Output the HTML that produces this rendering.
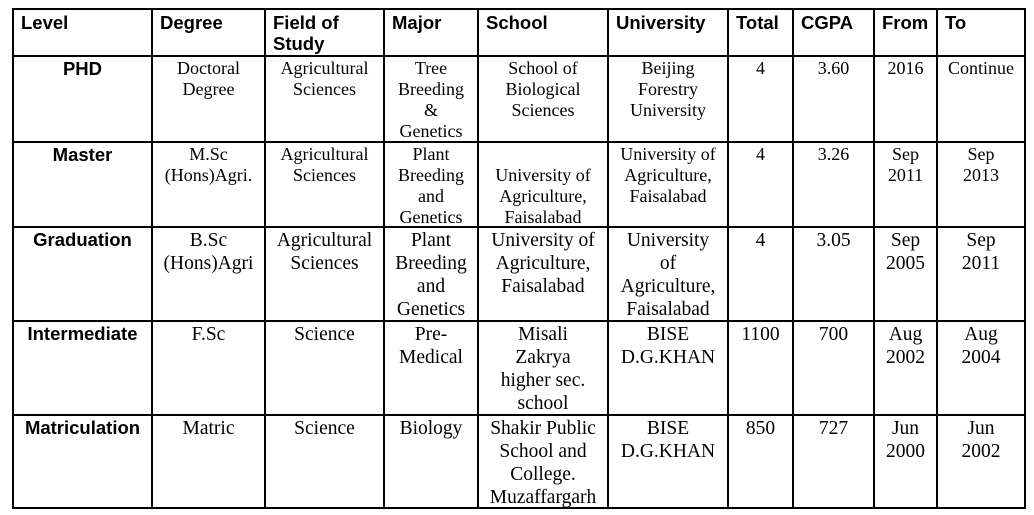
<!DOCTYPE html>
<html><head><meta charset="utf-8"><style>
body{margin:0;background:#fff;width:1034px;height:515px;position:relative;overflow:hidden}
.c{position:absolute;box-sizing:border-box;color:#000}
.h{font-family:"Liberation Sans",sans-serif;font-weight:bold;font-size:18.5px;line-height:21px;padding:3px 0 0 8px;text-align:left}
.lv{font-family:"Liberation Sans",sans-serif;font-weight:bold;font-size:18.5px;text-align:center;line-height:21px;padding-top:2px}
.b{font-family:"Liberation Serif",serif;font-size:18px;line-height:21px;text-align:center;padding-top:2px}
.g{font-size:19.5px;line-height:23px}
.ln{position:absolute;background:#000}
</style></head><body>
<div id="t"></div>
<script>
const cols=[13,152,265,384,478,608,728,793,874,937,1025];
const rows=[9,56,142,227,321,415,508];
const headers=["Level","Degree","Field of Study","Major","School","University","Total","CGPA","From","To"];
const data=[
["PHD","Doctoral<br>Degree","Agricultural<br>Sciences","Tree<br>Breeding<br>&amp;<br>Genetics","School of<br>Biological<br>Sciences","Beijing<br>Forestry<br>University","4","3.60","2016","Continue"],
["Master","M.Sc<br>(Hons)Agri.","Agricultural<br>Sciences","Plant<br>Breeding<br>and<br>Genetics","<br>University of<br>Agriculture,<br>Faisalabad","University of<br>Agriculture,<br>Faisalabad","4","3.26","Sep<br>2011","Sep<br>2013"],
["Graduation","B.Sc<br>(Hons)Agri","Agricultural<br>Sciences","Plant<br>Breeding<br>and<br>Genetics","University of<br>Agriculture,<br>Faisalabad","University<br>of<br>Agriculture,<br>Faisalabad","4","3.05","Sep<br>2005","Sep<br>2011"],
["Intermediate","F.Sc","Science","Pre-<br>Medical","Misali<br>Zakrya<br>higher sec.<br>school","BISE<br>D.G.KHAN","1100","700","Aug<br>2002","Aug<br>2004"],
["Matriculation","Matric","Science","Biology","Shakir Public<br>School and<br>College.<br>Muzaffargarh","BISE<br>D.G.KHAN","850","727","Jun<br>2000","Jun<br>2002"]];
const t=document.getElementById('t');
function cell(cls,x0,x1,y0,y1,html,name){
 const d=document.createElement('div');d.className='c '+cls;
 d.style.left=x0+'px';d.style.width=(x1-x0)+'px';d.style.top=y0+'px';d.style.height=(y1-y0)+'px';
 d.innerHTML=html;
 
 
 t.appendChild(d);}
headers.forEach((h,i)=>cell('h',cols[i],cols[i+1],rows[0],rows[1],h.replace('of Study','of<br>Study'),'header-'+h.toLowerCase().replace(/ /g,'-')));
data.forEach((r,ri)=>r.forEach((v,ci)=>{
 const big=ri>=2?' g':'';
 cell(ci==0?'lv':'b'+big,cols[ci],cols[ci+1],rows[ri+1],rows[ri+2],v,'cell-'+r[0].toLowerCase()+'-'+headers[ci].toLowerCase().replace(/ /g,'-'));
}));
cols.forEach(x=>{const l=document.createElement('div');l.className='ln';l.style.left=(x-1)+'px';l.style.top=(rows[0]-1)+'px';l.style.width='2px';l.style.height=(rows[rows.length-1]-rows[0]+2)+'px';


t.appendChild(l);});
rows.forEach(y=>{const l=document.createElement('div');l.className='ln';l.style.top=(y-1)+'px';l.style.left=(cols[0]-1)+'px';l.style.height='2px';l.style.width=(cols[cols.length-1]-cols[0]+2)+'px';


t.appendChild(l);});
</script>
</body></html>
